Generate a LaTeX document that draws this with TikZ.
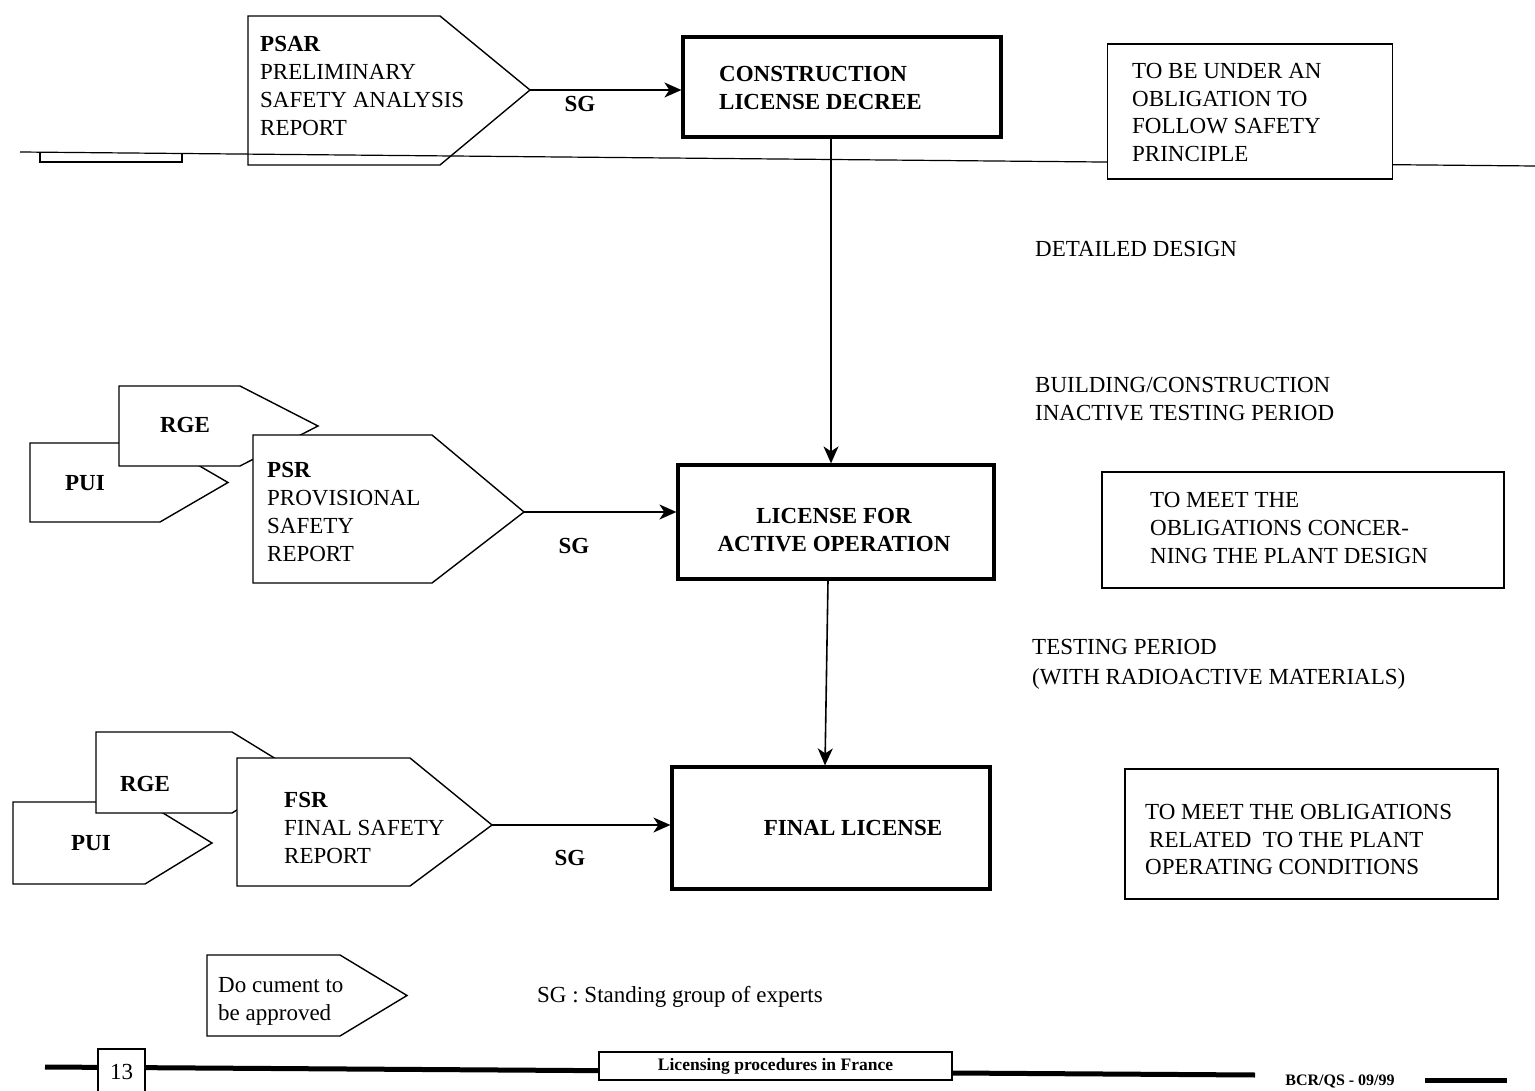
\documentclass[tikz,border=0pt]{standalone}
\usepackage{fontspec}
\setmainfont{Liberation Serif}
\usetikzlibrary{arrows.meta}
\begin{document}
\begin{tikzpicture}[x=1pt,y=-1pt,
  every node/.style={inner sep=0pt, font=\fontsize{23}{28}\selectfont},
  bold/.style={font=\bfseries\fontsize{23}{28}\selectfont},
  doc/.style={draw=black, line width=1.4pt, fill=white, line join=miter},
  bigbox/.style={draw=black, line width=3.2pt, fill=white, rectangle},
  notebox/.style={draw=black, line width=1.6pt, fill=white, rectangle},
  txt/.style={anchor=north west, align=left},
  arr/.style={line width=1.6pt, -{Stealth[length=17pt,width=15pt,inset=5pt]}},
  footline/.style={line width=5pt},
]
\useasboundingbox (0,0) rectangle (1535,1091);

% boundary line across the top stage
\draw[line width=1.2pt] (20,152) -- (1535,166);
\draw[line width=1.2pt] (40,153) -- (40,162) -- (182,162) -- (182,154);

% ---- construction stage
\draw[doc, fill=none] (248,16) -- (440,16) -- (530,90) -- (440,165) -- (248,165) -- cycle;
\coordinate (psartip) at (530,90);
\node[txt] (psar) at (260,36.5) {\textbf{PSAR}\\PRELIMINARY\\SAFETY ANALYSIS\\REPORT};

\node[bigbox, minimum width=318pt, minimum height=100pt] (cld) at (842,87) {};
\node[txt, bold] (cldt) at (719,66.5) {CONSTRUCTION\\LICENSE DECREE};
\node[bold] (sg1) at (580,104) {SG};

\node[notebox, minimum width=285pt, minimum height=135pt] (ob1) at (1250,111.5) {};
\node[txt, font=\fontsize{23}{27.5}\selectfont] (ob1t) at (1132,63.5)
  {TO BE UNDER AN\\OBLIGATION TO\\FOLLOW SAFETY\\PRINCIPLE};

\node[txt] (design) at (1035,241.5) {DETAILED DESIGN};
\node[txt] (build) at (1035,377.5) {BUILDING/CONSTRUCTION\\INACTIVE TESTING PERIOD};

% ---- active operation stage
\draw[doc] (30,443) -- (160,443) -- (228,482.5) -- (160,522) -- (30,522) -- cycle;
\node[bold] (pui1) at (85,483) {PUI};
\draw[doc] (119,386) -- (240,386) -- (318,426) -- (240,466) -- (119,466) -- cycle;
\node[bold] (rge1) at (185,425) {RGE};
\draw[doc] (253,435) -- (432,435) -- (524,512) -- (432,583) -- (253,583) -- cycle;
\coordinate (psrtip) at (524,512);
\node[txt] (psr) at (267,462.5) {\textbf{PSR}\\PROVISIONAL\\SAFETY\\REPORT};

\node[bigbox, minimum width=316pt, minimum height=114pt] (lao) at (836,522) {};
\node[bold, align=center, anchor=north] (laot) at (834,508.5) {LICENSE FOR\\ACTIVE OPERATION};
\node[bold] (sg2) at (574,546) {SG};

\node[notebox, minimum width=402pt, minimum height=116pt] (ob2) at (1303,530) {};
\node[txt] (ob2t) at (1150,492.5) {TO MEET THE\\OBLIGATIONS CONCER-\\NING THE PLANT DESIGN};

\node[txt, font=\fontsize{23}{30}\selectfont] (testing) at (1032,639.5)
  {TESTING PERIOD\\(WITH RADIOACTIVE MATERIALS)};

% ---- final stage
\draw[doc] (13,802) -- (145,802) -- (212,843) -- (145,884) -- (13,884) -- cycle;
\node[bold] (pui2) at (91,843) {PUI};
\draw[doc] (96,732) -- (232,732) -- (298,772.5) -- (232,813) -- (96,813) -- cycle;
\node[bold] (rge2) at (145,784) {RGE};
\draw[doc] (237,758) -- (410,758) -- (492,825) -- (410,886) -- (237,886) -- cycle;
\coordinate (fsrtip) at (492,825);
\node[txt] (fsr) at (284,792.5) {\textbf{FSR}\\FINAL SAFETY\\REPORT};

\node[bigbox, minimum width=318pt, minimum height=122pt] (fl) at (831,828) {};
\node[bold] (flt) at (853,828) {FINAL LICENSE};
\node[bold] (sg3) at (570,858) {SG};

\node[notebox, minimum width=373pt, minimum height=130pt] (ob3) at (1311.5,834) {};
\node[txt, font=\fontsize{23}{27.5}\selectfont] (ob3t) at (1145,804.5)
  {TO MEET THE OBLIGATIONS\\\hspace*{4pt}RELATED\ \ TO THE PLANT\\OPERATING CONDITIONS};

% ---- connectors
\draw[arr] (psartip) -- (psartip -| cld.west);
\draw[arr] (psrtip) -- (psrtip -| lao.west);
\draw[arr] (fsrtip) -- (fsrtip -| fl.west);
\draw[arr] ([xshift=-11pt]cld.south) -- ([xshift=-5pt]lao.north);
\draw[arr] ([xshift=-8pt]lao.south) -- ([xshift=-6pt]fl.north);

% ---- legend
\draw[doc] (207,955) -- (340,955) -- (407,995.5) -- (340,1036) -- (207,1036) -- cycle;
\node[txt] (legdoc) at (218,977.5) {Do cument to\\be approved};
\node[txt] (legsg) at (537,986.5) {SG : Standing group of experts};

% ---- footer
\draw[footline] (45,1067) -- (1255,1075);
\draw[footline] (1425,1080) -- (1507,1080);
\draw[line width=1.2pt, fill=white] (98,1094) -- (98,1049) -- (145,1049) -- (145,1094);
\node[font=\fontsize{23}{26}\selectfont] (page) at (121.5,1072) {13};
\node[draw, line width=1.2pt, fill=white, minimum width=353pt, minimum height=28pt,
  font=\bfseries\fontsize{17.5}{20}\selectfont] (title) at (775.5,1066) {Licensing procedures in France};
\node[font=\bfseries\fontsize{16}{18}\selectfont] (ref) at (1340,1081) {BCR/QS - 09/99};
\end{tikzpicture}
\end{document}
